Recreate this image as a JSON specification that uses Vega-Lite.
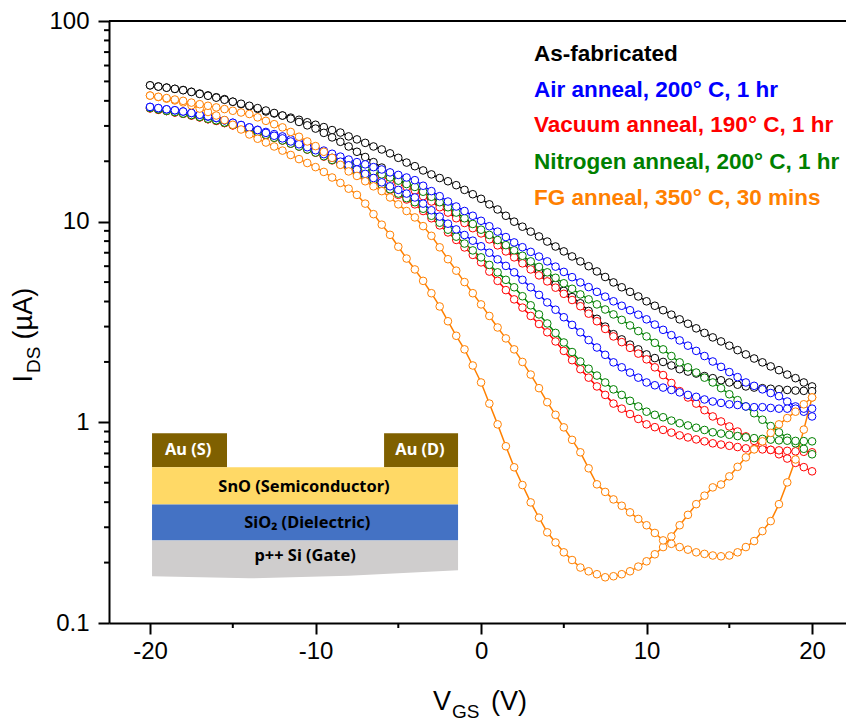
{"$schema":"https://vega.github.io/schema/vega-lite/v6.json","width":737,"height":602,"autosize":"none","padding":{"left":109,"top":21,"right":0,"bottom":98},"background":"white","config":{"view":{"stroke":null},"font":"Liberation Sans"},
"datasets":{
"curves":[
{"v":-20,"i":47.8,"s":"k1"},{"v":-19.5,"i":47.2,"s":"k1"},{"v":-19,"i":46.6,"s":"k1"},{"v":-18.5,"i":45.9,"s":"k1"},{"v":-18,"i":45.3,"s":"k1"},{"v":-17.5,"i":44.4,"s":"k1"},{"v":-17,"i":43.5,"s":"k1"},{"v":-16.5,"i":42.6,"s":"k1"},{"v":-16,"i":41.7,"s":"k1"},{"v":-15.5,"i":40.8,"s":"k1"},{"v":-15,"i":39.6,"s":"k1"},{"v":-14.5,"i":38.5,"s":"k1"},{"v":-14,"i":37.6,"s":"k1"},{"v":-13.5,"i":36.5,"s":"k1"},{"v":-13,"i":35.4,"s":"k1"},{"v":-12.5,"i":34.6,"s":"k1"},{"v":-12,"i":33.8,"s":"k1"},{"v":-11.5,"i":33,"s":"k1"},{"v":-11,"i":32.2,"s":"k1"},{"v":-10.5,"i":31.3,"s":"k1"},{"v":-10,"i":30.4,"s":"k1"},{"v":-9.5,"i":29.6,"s":"k1"},{"v":-9,"i":28.6,"s":"k1"},{"v":-8.5,"i":27.8,"s":"k1"},{"v":-8,"i":26.6,"s":"k1"},{"v":-7.5,"i":25.7,"s":"k1"},{"v":-7,"i":24.7,"s":"k1"},{"v":-6.5,"i":23.7,"s":"k1"},{"v":-6,"i":22.9,"s":"k1"},{"v":-5.5,"i":21.9,"s":"k1"},{"v":-5,"i":20.8,"s":"k1"},{"v":-4.5,"i":19.7,"s":"k1"},{"v":-4,"i":18.9,"s":"k1"},{"v":-3.5,"i":18,"s":"k1"},{"v":-3,"i":17.2,"s":"k1"},{"v":-2.5,"i":16.5,"s":"k1"},{"v":-2,"i":15.9,"s":"k1"},{"v":-1.5,"i":15.2,"s":"k1"},{"v":-1,"i":14.4,"s":"k1"},{"v":-0.5,"i":13.7,"s":"k1"},{"v":0,"i":13,"s":"k1"},{"v":0.5,"i":12.2,"s":"k1"},{"v":1,"i":11.5,"s":"k1"},{"v":1.5,"i":10.7,"s":"k1"},{"v":2,"i":10,"s":"k1"},{"v":2.5,"i":9.44,"s":"k1"},{"v":3,"i":8.92,"s":"k1"},{"v":3.5,"i":8.44,"s":"k1"},{"v":4,"i":7.96,"s":"k1"},{"v":4.5,"i":7.52,"s":"k1"},{"v":5,"i":7.11,"s":"k1"},{"v":5.5,"i":6.71,"s":"k1"},{"v":6,"i":6.34,"s":"k1"},{"v":6.5,"i":6,"s":"k1"},{"v":7,"i":5.65,"s":"k1"},{"v":7.5,"i":5.3,"s":"k1"},{"v":8,"i":4.98,"s":"k1"},{"v":8.5,"i":4.71,"s":"k1"},{"v":9,"i":4.47,"s":"k1"},{"v":9.5,"i":4.24,"s":"k1"},{"v":10,"i":4.01,"s":"k1"},{"v":10.5,"i":3.81,"s":"k1"},{"v":11,"i":3.62,"s":"k1"},{"v":11.5,"i":3.44,"s":"k1"},{"v":12,"i":3.26,"s":"k1"},{"v":12.5,"i":3.1,"s":"k1"},{"v":13,"i":2.94,"s":"k1"},{"v":13.5,"i":2.79,"s":"k1"},{"v":14,"i":2.65,"s":"k1"},{"v":14.5,"i":2.53,"s":"k1"},{"v":15,"i":2.41,"s":"k1"},{"v":15.5,"i":2.29,"s":"k1"},{"v":16,"i":2.18,"s":"k1"},{"v":16.5,"i":2.08,"s":"k1"},{"v":17,"i":1.99,"s":"k1"},{"v":17.5,"i":1.9,"s":"k1"},{"v":18,"i":1.82,"s":"k1"},{"v":18.5,"i":1.73,"s":"k1"},{"v":19,"i":1.66,"s":"k1"},{"v":19.5,"i":1.58,"s":"k1"},{"v":20,"i":1.51,"s":"k1"},
{"v":-20,"i":47.8,"s":"k2"},{"v":-19.5,"i":47.1,"s":"k2"},{"v":-19,"i":46.5,"s":"k2"},{"v":-18.5,"i":45.9,"s":"k2"},{"v":-18,"i":45.2,"s":"k2"},{"v":-17.5,"i":44.3,"s":"k2"},{"v":-17,"i":43.3,"s":"k2"},{"v":-16.5,"i":42.4,"s":"k2"},{"v":-16,"i":41.5,"s":"k2"},{"v":-15.5,"i":40.5,"s":"k2"},{"v":-15,"i":39.6,"s":"k2"},{"v":-14.5,"i":38.7,"s":"k2"},{"v":-14,"i":37.8,"s":"k2"},{"v":-13.5,"i":36.8,"s":"k2"},{"v":-13,"i":35.8,"s":"k2"},{"v":-12.5,"i":34.8,"s":"k2"},{"v":-12,"i":33.8,"s":"k2"},{"v":-11.5,"i":32.6,"s":"k2"},{"v":-11,"i":31.4,"s":"k2"},{"v":-10.5,"i":30.2,"s":"k2"},{"v":-10,"i":29.1,"s":"k2"},{"v":-9.5,"i":27.7,"s":"k2"},{"v":-9,"i":26.3,"s":"k2"},{"v":-8.5,"i":25,"s":"k2"},{"v":-8,"i":23.7,"s":"k2"},{"v":-7.5,"i":22.3,"s":"k2"},{"v":-7,"i":21,"s":"k2"},{"v":-6.5,"i":19.8,"s":"k2"},{"v":-6,"i":18.6,"s":"k2"},{"v":-5.5,"i":17.5,"s":"k2"},{"v":-5,"i":16.4,"s":"k2"},{"v":-4.5,"i":15.4,"s":"k2"},{"v":-4,"i":14.5,"s":"k2"},{"v":-3.5,"i":13.7,"s":"k2"},{"v":-3,"i":12.9,"s":"k2"},{"v":-2.5,"i":12.2,"s":"k2"},{"v":-2,"i":11.5,"s":"k2"},{"v":-1.5,"i":10.8,"s":"k2"},{"v":-1,"i":10.1,"s":"k2"},{"v":-0.5,"i":9.5,"s":"k2"},{"v":0,"i":8.93,"s":"k2"},{"v":0.5,"i":8.36,"s":"k2"},{"v":1,"i":7.83,"s":"k2"},{"v":1.5,"i":7.33,"s":"k2"},{"v":2,"i":6.86,"s":"k2"},{"v":2.5,"i":6.4,"s":"k2"},{"v":3,"i":5.98,"s":"k2"},{"v":3.5,"i":5.59,"s":"k2"},{"v":4,"i":5.22,"s":"k2"},{"v":4.5,"i":4.86,"s":"k2"},{"v":5,"i":4.52,"s":"k2"},{"v":5.5,"i":4.21,"s":"k2"},{"v":6,"i":3.92,"s":"k2"},{"v":6.5,"i":3.59,"s":"k2"},{"v":7,"i":3.28,"s":"k2"},{"v":7.5,"i":3,"s":"k2"},{"v":8,"i":2.75,"s":"k2"},{"v":8.5,"i":2.59,"s":"k2"},{"v":9,"i":2.44,"s":"k2"},{"v":9.5,"i":2.31,"s":"k2"},{"v":10,"i":2.18,"s":"k2"},{"v":10.5,"i":2.09,"s":"k2"},{"v":11,"i":2,"s":"k2"},{"v":11.5,"i":1.92,"s":"k2"},{"v":12,"i":1.84,"s":"k2"},{"v":12.5,"i":1.79,"s":"k2"},{"v":13,"i":1.75,"s":"k2"},{"v":13.5,"i":1.7,"s":"k2"},{"v":14,"i":1.66,"s":"k2"},{"v":14.5,"i":1.62,"s":"k2"},{"v":15,"i":1.58,"s":"k2"},{"v":15.5,"i":1.54,"s":"k2"},{"v":16,"i":1.51,"s":"k2"},{"v":16.5,"i":1.49,"s":"k2"},{"v":17,"i":1.48,"s":"k2"},{"v":17.5,"i":1.47,"s":"k2"},{"v":18,"i":1.46,"s":"k2"},{"v":18.5,"i":1.45,"s":"k2"},{"v":19,"i":1.44,"s":"k2"},{"v":19.5,"i":1.435,"s":"k2"},{"v":20,"i":1.43,"s":"k2"},
{"v":-20,"i":36.7,"s":"r1"},{"v":-19.5,"i":36.1,"s":"r1"},{"v":-19,"i":35.6,"s":"r1"},{"v":-18.5,"i":35,"s":"r1"},{"v":-18,"i":34.5,"s":"r1"},{"v":-17.5,"i":33.8,"s":"r1"},{"v":-17,"i":33.1,"s":"r1"},{"v":-16.5,"i":32.4,"s":"r1"},{"v":-16,"i":31.8,"s":"r1"},{"v":-15.5,"i":31,"s":"r1"},{"v":-15,"i":30.2,"s":"r1"},{"v":-14.5,"i":29.4,"s":"r1"},{"v":-14,"i":28.7,"s":"r1"},{"v":-13.5,"i":27.8,"s":"r1"},{"v":-13,"i":27,"s":"r1"},{"v":-12.5,"i":26.2,"s":"r1"},{"v":-12,"i":25.4,"s":"r1"},{"v":-11.5,"i":24.5,"s":"r1"},{"v":-11,"i":23.7,"s":"r1"},{"v":-10.5,"i":22.9,"s":"r1"},{"v":-10,"i":22.1,"s":"r1"},{"v":-9.5,"i":21.4,"s":"r1"},{"v":-9,"i":20.7,"s":"r1"},{"v":-8.5,"i":20,"s":"r1"},{"v":-8,"i":19.3,"s":"r1"},{"v":-7.5,"i":18.6,"s":"r1"},{"v":-7,"i":18,"s":"r1"},{"v":-6.5,"i":17.4,"s":"r1"},{"v":-6,"i":16.8,"s":"r1"},{"v":-5.5,"i":16.1,"s":"r1"},{"v":-5,"i":15.5,"s":"r1"},{"v":-4.5,"i":14.9,"s":"r1"},{"v":-4,"i":14.3,"s":"r1"},{"v":-3.5,"i":13.4,"s":"r1"},{"v":-3,"i":12.6,"s":"r1"},{"v":-2.5,"i":11.8,"s":"r1"},{"v":-2,"i":11.1,"s":"r1"},{"v":-1.5,"i":10.4,"s":"r1"},{"v":-1,"i":9.85,"s":"r1"},{"v":-0.5,"i":9.28,"s":"r1"},{"v":0,"i":8.74,"s":"r1"},{"v":0.5,"i":8.16,"s":"r1"},{"v":1,"i":7.62,"s":"r1"},{"v":1.5,"i":7.11,"s":"r1"},{"v":2,"i":6.64,"s":"r1"},{"v":2.5,"i":6.2,"s":"r1"},{"v":3,"i":5.78,"s":"r1"},{"v":3.5,"i":5.4,"s":"r1"},{"v":4,"i":5.04,"s":"r1"},{"v":4.5,"i":4.69,"s":"r1"},{"v":5,"i":4.37,"s":"r1"},{"v":5.5,"i":4.07,"s":"r1"},{"v":6,"i":3.79,"s":"r1"},{"v":6.5,"i":3.48,"s":"r1"},{"v":7,"i":3.19,"s":"r1"},{"v":7.5,"i":2.92,"s":"r1"},{"v":8,"i":2.68,"s":"r1"},{"v":8.5,"i":2.51,"s":"r1"},{"v":9,"i":2.35,"s":"r1"},{"v":9.5,"i":2.2,"s":"r1"},{"v":10,"i":2.06,"s":"r1"},{"v":10.5,"i":1.88,"s":"r1"},{"v":11,"i":1.72,"s":"r1"},{"v":11.5,"i":1.57,"s":"r1"},{"v":12,"i":1.43,"s":"r1"},{"v":12.5,"i":1.33,"s":"r1"},{"v":13,"i":1.24,"s":"r1"},{"v":13.5,"i":1.15,"s":"r1"},{"v":14,"i":1.07,"s":"r1"},{"v":14.5,"i":1.01,"s":"r1"},{"v":15,"i":0.954,"s":"r1"},{"v":15.5,"i":0.9,"s":"r1"},{"v":16,"i":0.851,"s":"r1"},{"v":16.5,"i":0.808,"s":"r1"},{"v":17,"i":0.768,"s":"r1"},{"v":17.5,"i":0.729,"s":"r1"},{"v":18,"i":0.693,"s":"r1"},{"v":18.5,"i":0.66,"s":"r1"},{"v":19,"i":0.628,"s":"r1"},{"v":19.5,"i":0.598,"s":"r1"},{"v":20,"i":0.57,"s":"r1"},
{"v":-20,"i":36.7,"s":"r2"},{"v":-19.5,"i":36.1,"s":"r2"},{"v":-19,"i":35.6,"s":"r2"},{"v":-18.5,"i":35,"s":"r2"},{"v":-18,"i":34.5,"s":"r2"},{"v":-17.5,"i":33.8,"s":"r2"},{"v":-17,"i":33.1,"s":"r2"},{"v":-16.5,"i":32.4,"s":"r2"},{"v":-16,"i":31.8,"s":"r2"},{"v":-15.5,"i":31,"s":"r2"},{"v":-15,"i":30.2,"s":"r2"},{"v":-14.5,"i":29.4,"s":"r2"},{"v":-14,"i":28.7,"s":"r2"},{"v":-13.5,"i":27.8,"s":"r2"},{"v":-13,"i":27,"s":"r2"},{"v":-12.5,"i":26.2,"s":"r2"},{"v":-12,"i":25.4,"s":"r2"},{"v":-11.5,"i":24.5,"s":"r2"},{"v":-11,"i":23.7,"s":"r2"},{"v":-10.5,"i":22.9,"s":"r2"},{"v":-10,"i":22.1,"s":"r2"},{"v":-9.5,"i":21.1,"s":"r2"},{"v":-9,"i":20.2,"s":"r2"},{"v":-8.5,"i":19.3,"s":"r2"},{"v":-8,"i":18.4,"s":"r2"},{"v":-7.5,"i":17.5,"s":"r2"},{"v":-7,"i":16.7,"s":"r2"},{"v":-6.5,"i":15.9,"s":"r2"},{"v":-6,"i":15.2,"s":"r2"},{"v":-5.5,"i":14.4,"s":"r2"},{"v":-5,"i":13.6,"s":"r2"},{"v":-4.5,"i":12.9,"s":"r2"},{"v":-4,"i":12.2,"s":"r2"},{"v":-3.5,"i":11.3,"s":"r2"},{"v":-3,"i":10.4,"s":"r2"},{"v":-2.5,"i":9.58,"s":"r2"},{"v":-2,"i":8.84,"s":"r2"},{"v":-1.5,"i":8.11,"s":"r2"},{"v":-1,"i":7.44,"s":"r2"},{"v":-0.5,"i":6.83,"s":"r2"},{"v":0,"i":6.27,"s":"r2"},{"v":0.5,"i":5.64,"s":"r2"},{"v":1,"i":5.07,"s":"r2"},{"v":1.5,"i":4.56,"s":"r2"},{"v":2,"i":4.1,"s":"r2"},{"v":2.5,"i":3.73,"s":"r2"},{"v":3,"i":3.39,"s":"r2"},{"v":3.5,"i":3.09,"s":"r2"},{"v":4,"i":2.81,"s":"r2"},{"v":4.5,"i":2.53,"s":"r2"},{"v":5,"i":2.27,"s":"r2"},{"v":5.5,"i":2.04,"s":"r2"},{"v":6,"i":1.84,"s":"r2"},{"v":6.5,"i":1.67,"s":"r2"},{"v":7,"i":1.51,"s":"r2"},{"v":7.5,"i":1.37,"s":"r2"},{"v":8,"i":1.24,"s":"r2"},{"v":8.5,"i":1.17,"s":"r2"},{"v":9,"i":1.1,"s":"r2"},{"v":9.5,"i":1.04,"s":"r2"},{"v":10,"i":0.977,"s":"r2"},{"v":10.5,"i":0.946,"s":"r2"},{"v":11,"i":0.917,"s":"r2"},{"v":11.5,"i":0.889,"s":"r2"},{"v":12,"i":0.861,"s":"r2"},{"v":12.5,"i":0.841,"s":"r2"},{"v":13,"i":0.822,"s":"r2"},{"v":13.5,"i":0.804,"s":"r2"},{"v":14,"i":0.786,"s":"r2"},{"v":14.5,"i":0.775,"s":"r2"},{"v":15,"i":0.764,"s":"r2"},{"v":15.5,"i":0.753,"s":"r2"},{"v":16,"i":0.742,"s":"r2"},{"v":16.5,"i":0.737,"s":"r2"},{"v":17,"i":0.733,"s":"r2"},{"v":17.5,"i":0.729,"s":"r2"},{"v":18,"i":0.725,"s":"r2"},{"v":18.5,"i":0.721,"s":"r2"},{"v":19,"i":0.717,"s":"r2"},{"v":19.5,"i":0.713,"s":"r2"},{"v":20,"i":0.709,"s":"r2"},
{"v":-20,"i":36.9,"s":"g1"},{"v":-19.5,"i":36.3,"s":"g1"},{"v":-19,"i":35.7,"s":"g1"},{"v":-18.5,"i":35.2,"s":"g1"},{"v":-18,"i":34.6,"s":"g1"},{"v":-17.5,"i":34,"s":"g1"},{"v":-17,"i":33.3,"s":"g1"},{"v":-16.5,"i":32.6,"s":"g1"},{"v":-16,"i":32,"s":"g1"},{"v":-15.5,"i":31.2,"s":"g1"},{"v":-15,"i":30.4,"s":"g1"},{"v":-14.5,"i":29.6,"s":"g1"},{"v":-14,"i":28.9,"s":"g1"},{"v":-13.5,"i":28,"s":"g1"},{"v":-13,"i":27.2,"s":"g1"},{"v":-12.5,"i":26.4,"s":"g1"},{"v":-12,"i":25.7,"s":"g1"},{"v":-11.5,"i":24.8,"s":"g1"},{"v":-11,"i":24,"s":"g1"},{"v":-10.5,"i":23.2,"s":"g1"},{"v":-10,"i":22.4,"s":"g1"},{"v":-9.5,"i":21.7,"s":"g1"},{"v":-9,"i":21,"s":"g1"},{"v":-8.5,"i":20.3,"s":"g1"},{"v":-8,"i":19.6,"s":"g1"},{"v":-7.5,"i":19,"s":"g1"},{"v":-7,"i":18.4,"s":"g1"},{"v":-6.5,"i":17.8,"s":"g1"},{"v":-6,"i":17.2,"s":"g1"},{"v":-5.5,"i":16.6,"s":"g1"},{"v":-5,"i":16,"s":"g1"},{"v":-4.5,"i":15.4,"s":"g1"},{"v":-4,"i":14.9,"s":"g1"},{"v":-3.5,"i":14.1,"s":"g1"},{"v":-3,"i":13.3,"s":"g1"},{"v":-2.5,"i":12.5,"s":"g1"},{"v":-2,"i":11.8,"s":"g1"},{"v":-1.5,"i":11.1,"s":"g1"},{"v":-1,"i":10.4,"s":"g1"},{"v":-0.5,"i":9.74,"s":"g1"},{"v":0,"i":9.12,"s":"g1"},{"v":0.5,"i":8.59,"s":"g1"},{"v":1,"i":8.1,"s":"g1"},{"v":1.5,"i":7.64,"s":"g1"},{"v":2,"i":7.2,"s":"g1"},{"v":2.5,"i":6.76,"s":"g1"},{"v":3,"i":6.34,"s":"g1"},{"v":3.5,"i":5.95,"s":"g1"},{"v":4,"i":5.59,"s":"g1"},{"v":4.5,"i":5.25,"s":"g1"},{"v":5,"i":4.93,"s":"g1"},{"v":5.5,"i":4.63,"s":"g1"},{"v":6,"i":4.34,"s":"g1"},{"v":6.5,"i":4.1,"s":"g1"},{"v":7,"i":3.87,"s":"g1"},{"v":7.5,"i":3.65,"s":"g1"},{"v":8,"i":3.45,"s":"g1"},{"v":8.5,"i":3.24,"s":"g1"},{"v":9,"i":3.04,"s":"g1"},{"v":9.5,"i":2.85,"s":"g1"},{"v":10,"i":2.68,"s":"g1"},{"v":10.5,"i":2.49,"s":"g1"},{"v":11,"i":2.31,"s":"g1"},{"v":11.5,"i":2.14,"s":"g1"},{"v":12,"i":1.99,"s":"g1"},{"v":12.5,"i":1.88,"s":"g1"},{"v":13,"i":1.77,"s":"g1"},{"v":13.5,"i":1.67,"s":"g1"},{"v":14,"i":1.58,"s":"g1"},{"v":14.5,"i":1.48,"s":"g1"},{"v":15,"i":1.38,"s":"g1"},{"v":15.5,"i":1.29,"s":"g1"},{"v":16,"i":1.2,"s":"g1"},{"v":16.5,"i":1.11,"s":"g1"},{"v":17,"i":1.03,"s":"g1"},{"v":17.5,"i":0.958,"s":"g1"},{"v":18,"i":0.892,"s":"g1"},{"v":18.5,"i":0.837,"s":"g1"},{"v":19,"i":0.786,"s":"g1"},{"v":19.5,"i":0.738,"s":"g1"},{"v":20,"i":0.693,"s":"g1"},
{"v":-20,"i":36.9,"s":"g2"},{"v":-19.5,"i":36.3,"s":"g2"},{"v":-19,"i":35.7,"s":"g2"},{"v":-18.5,"i":35.2,"s":"g2"},{"v":-18,"i":34.6,"s":"g2"},{"v":-17.5,"i":34,"s":"g2"},{"v":-17,"i":33.3,"s":"g2"},{"v":-16.5,"i":32.6,"s":"g2"},{"v":-16,"i":32,"s":"g2"},{"v":-15.5,"i":31.2,"s":"g2"},{"v":-15,"i":30.4,"s":"g2"},{"v":-14.5,"i":29.6,"s":"g2"},{"v":-14,"i":28.9,"s":"g2"},{"v":-13.5,"i":28,"s":"g2"},{"v":-13,"i":27.1,"s":"g2"},{"v":-12.5,"i":26.2,"s":"g2"},{"v":-12,"i":25.4,"s":"g2"},{"v":-11.5,"i":24.5,"s":"g2"},{"v":-11,"i":23.7,"s":"g2"},{"v":-10.5,"i":22.9,"s":"g2"},{"v":-10,"i":22.1,"s":"g2"},{"v":-9.5,"i":21.2,"s":"g2"},{"v":-9,"i":20.3,"s":"g2"},{"v":-8.5,"i":19.4,"s":"g2"},{"v":-8,"i":18.6,"s":"g2"},{"v":-7.5,"i":17.7,"s":"g2"},{"v":-7,"i":16.9,"s":"g2"},{"v":-6.5,"i":16.1,"s":"g2"},{"v":-6,"i":15.3,"s":"g2"},{"v":-5.5,"i":14.5,"s":"g2"},{"v":-5,"i":13.8,"s":"g2"},{"v":-4.5,"i":13.1,"s":"g2"},{"v":-4,"i":12.5,"s":"g2"},{"v":-3.5,"i":11.6,"s":"g2"},{"v":-3,"i":10.7,"s":"g2"},{"v":-2.5,"i":9.88,"s":"g2"},{"v":-2,"i":9.12,"s":"g2"},{"v":-1.5,"i":8.42,"s":"g2"},{"v":-1,"i":7.78,"s":"g2"},{"v":-0.5,"i":7.19,"s":"g2"},{"v":0,"i":6.64,"s":"g2"},{"v":0.5,"i":6.09,"s":"g2"},{"v":1,"i":5.59,"s":"g2"},{"v":1.5,"i":5.13,"s":"g2"},{"v":2,"i":4.71,"s":"g2"},{"v":2.5,"i":4.25,"s":"g2"},{"v":3,"i":3.83,"s":"g2"},{"v":3.5,"i":3.45,"s":"g2"},{"v":4,"i":3.11,"s":"g2"},{"v":4.5,"i":2.79,"s":"g2"},{"v":5,"i":2.5,"s":"g2"},{"v":5.5,"i":2.24,"s":"g2"},{"v":6,"i":2.01,"s":"g2"},{"v":6.5,"i":1.85,"s":"g2"},{"v":7,"i":1.71,"s":"g2"},{"v":7.5,"i":1.58,"s":"g2"},{"v":8,"i":1.46,"s":"g2"},{"v":8.5,"i":1.37,"s":"g2"},{"v":9,"i":1.28,"s":"g2"},{"v":9.5,"i":1.2,"s":"g2"},{"v":10,"i":1.13,"s":"g2"},{"v":10.5,"i":1.09,"s":"g2"},{"v":11,"i":1.06,"s":"g2"},{"v":11.5,"i":1.02,"s":"g2"},{"v":12,"i":0.99,"s":"g2"},{"v":12.5,"i":0.965,"s":"g2"},{"v":13,"i":0.94,"s":"g2"},{"v":13.5,"i":0.916,"s":"g2"},{"v":14,"i":0.892,"s":"g2"},{"v":14.5,"i":0.879,"s":"g2"},{"v":15,"i":0.867,"s":"g2"},{"v":15.5,"i":0.854,"s":"g2"},{"v":16,"i":0.842,"s":"g2"},{"v":16.5,"i":0.834,"s":"g2"},{"v":17,"i":0.827,"s":"g2"},{"v":17.5,"i":0.82,"s":"g2"},{"v":18,"i":0.813,"s":"g2"},{"v":18.5,"i":0.81,"s":"g2"},{"v":19,"i":0.808,"s":"g2"},{"v":19.5,"i":0.806,"s":"g2"},{"v":20,"i":0.804,"s":"g2"},
{"v":-20,"i":37.3,"s":"b1"},{"v":-19.5,"i":36.8,"s":"b1"},{"v":-19,"i":36.3,"s":"b1"},{"v":-18.5,"i":35.9,"s":"b1"},{"v":-18,"i":35.4,"s":"b1"},{"v":-17.5,"i":34.8,"s":"b1"},{"v":-17,"i":34.1,"s":"b1"},{"v":-16.5,"i":33.4,"s":"b1"},{"v":-16,"i":32.8,"s":"b1"},{"v":-15.5,"i":32,"s":"b1"},{"v":-15,"i":31.1,"s":"b1"},{"v":-14.5,"i":30.3,"s":"b1"},{"v":-14,"i":29.5,"s":"b1"},{"v":-13.5,"i":28.7,"s":"b1"},{"v":-13,"i":28,"s":"b1"},{"v":-12.5,"i":27.3,"s":"b1"},{"v":-12,"i":26.6,"s":"b1"},{"v":-11.5,"i":25.7,"s":"b1"},{"v":-11,"i":24.9,"s":"b1"},{"v":-10.5,"i":24.1,"s":"b1"},{"v":-10,"i":23.4,"s":"b1"},{"v":-9.5,"i":22.6,"s":"b1"},{"v":-9,"i":21.8,"s":"b1"},{"v":-8.5,"i":21.1,"s":"b1"},{"v":-8,"i":20.4,"s":"b1"},{"v":-7.5,"i":19.8,"s":"b1"},{"v":-7,"i":19.3,"s":"b1"},{"v":-6.5,"i":18.7,"s":"b1"},{"v":-6,"i":18.2,"s":"b1"},{"v":-5.5,"i":17.6,"s":"b1"},{"v":-5,"i":17.1,"s":"b1"},{"v":-4.5,"i":16.6,"s":"b1"},{"v":-4,"i":16.1,"s":"b1"},{"v":-3.5,"i":15.1,"s":"b1"},{"v":-3,"i":14.2,"s":"b1"},{"v":-2.5,"i":13.4,"s":"b1"},{"v":-2,"i":12.6,"s":"b1"},{"v":-1.5,"i":11.9,"s":"b1"},{"v":-1,"i":11.3,"s":"b1"},{"v":-0.5,"i":10.7,"s":"b1"},{"v":0,"i":10.1,"s":"b1"},{"v":0.5,"i":9.49,"s":"b1"},{"v":1,"i":8.92,"s":"b1"},{"v":1.5,"i":8.38,"s":"b1"},{"v":2,"i":7.88,"s":"b1"},{"v":2.5,"i":7.46,"s":"b1"},{"v":3,"i":7.07,"s":"b1"},{"v":3.5,"i":6.7,"s":"b1"},{"v":4,"i":6.34,"s":"b1"},{"v":4.5,"i":5.97,"s":"b1"},{"v":5,"i":5.62,"s":"b1"},{"v":5.5,"i":5.29,"s":"b1"},{"v":6,"i":4.98,"s":"b1"},{"v":6.5,"i":4.72,"s":"b1"},{"v":7,"i":4.47,"s":"b1"},{"v":7.5,"i":4.23,"s":"b1"},{"v":8,"i":4.01,"s":"b1"},{"v":8.5,"i":3.81,"s":"b1"},{"v":9,"i":3.62,"s":"b1"},{"v":9.5,"i":3.44,"s":"b1"},{"v":10,"i":3.26,"s":"b1"},{"v":10.5,"i":3.07,"s":"b1"},{"v":11,"i":2.89,"s":"b1"},{"v":11.5,"i":2.72,"s":"b1"},{"v":12,"i":2.56,"s":"b1"},{"v":12.5,"i":2.41,"s":"b1"},{"v":13,"i":2.27,"s":"b1"},{"v":13.5,"i":2.14,"s":"b1"},{"v":14,"i":2.01,"s":"b1"},{"v":14.5,"i":1.89,"s":"b1"},{"v":15,"i":1.78,"s":"b1"},{"v":15.5,"i":1.68,"s":"b1"},{"v":16,"i":1.58,"s":"b1"},{"v":16.5,"i":1.52,"s":"b1"},{"v":17,"i":1.46,"s":"b1"},{"v":17.5,"i":1.4,"s":"b1"},{"v":18,"i":1.35,"s":"b1"},{"v":18.5,"i":1.27,"s":"b1"},{"v":19,"i":1.2,"s":"b1"},{"v":19.5,"i":1.13,"s":"b1"},{"v":20,"i":1.07,"s":"b1"},
{"v":-20,"i":37.3,"s":"b2"},{"v":-19.5,"i":36.8,"s":"b2"},{"v":-19,"i":36.3,"s":"b2"},{"v":-18.5,"i":35.9,"s":"b2"},{"v":-18,"i":35.4,"s":"b2"},{"v":-17.5,"i":34.8,"s":"b2"},{"v":-17,"i":34.1,"s":"b2"},{"v":-16.5,"i":33.5,"s":"b2"},{"v":-16,"i":32.9,"s":"b2"},{"v":-15.5,"i":32,"s":"b2"},{"v":-15,"i":31.1,"s":"b2"},{"v":-14.5,"i":30.3,"s":"b2"},{"v":-14,"i":29.5,"s":"b2"},{"v":-13.5,"i":28.6,"s":"b2"},{"v":-13,"i":27.7,"s":"b2"},{"v":-12.5,"i":26.8,"s":"b2"},{"v":-12,"i":26,"s":"b2"},{"v":-11.5,"i":25.1,"s":"b2"},{"v":-11,"i":24.3,"s":"b2"},{"v":-10.5,"i":23.5,"s":"b2"},{"v":-10,"i":22.7,"s":"b2"},{"v":-9.5,"i":21.7,"s":"b2"},{"v":-9,"i":20.8,"s":"b2"},{"v":-8.5,"i":19.9,"s":"b2"},{"v":-8,"i":19.1,"s":"b2"},{"v":-7.5,"i":18.2,"s":"b2"},{"v":-7,"i":17.3,"s":"b2"},{"v":-6.5,"i":16.5,"s":"b2"},{"v":-6,"i":15.7,"s":"b2"},{"v":-5.5,"i":15,"s":"b2"},{"v":-5,"i":14.4,"s":"b2"},{"v":-4.5,"i":13.8,"s":"b2"},{"v":-4,"i":13.2,"s":"b2"},{"v":-3.5,"i":12.3,"s":"b2"},{"v":-3,"i":11.4,"s":"b2"},{"v":-2.5,"i":10.6,"s":"b2"},{"v":-2,"i":9.77,"s":"b2"},{"v":-1.5,"i":9.15,"s":"b2"},{"v":-1,"i":8.58,"s":"b2"},{"v":-0.5,"i":8.04,"s":"b2"},{"v":0,"i":7.54,"s":"b2"},{"v":0.5,"i":7,"s":"b2"},{"v":1,"i":6.49,"s":"b2"},{"v":1.5,"i":6.02,"s":"b2"},{"v":2,"i":5.59,"s":"b2"},{"v":2.5,"i":5.13,"s":"b2"},{"v":3,"i":4.71,"s":"b2"},{"v":3.5,"i":4.32,"s":"b2"},{"v":4,"i":3.96,"s":"b2"},{"v":4.5,"i":3.64,"s":"b2"},{"v":5,"i":3.34,"s":"b2"},{"v":5.5,"i":3.06,"s":"b2"},{"v":6,"i":2.81,"s":"b2"},{"v":6.5,"i":2.57,"s":"b2"},{"v":7,"i":2.36,"s":"b2"},{"v":7.5,"i":2.17,"s":"b2"},{"v":8,"i":1.99,"s":"b2"},{"v":8.5,"i":1.88,"s":"b2"},{"v":9,"i":1.77,"s":"b2"},{"v":9.5,"i":1.67,"s":"b2"},{"v":10,"i":1.58,"s":"b2"},{"v":10.5,"i":1.53,"s":"b2"},{"v":11,"i":1.49,"s":"b2"},{"v":11.5,"i":1.45,"s":"b2"},{"v":12,"i":1.41,"s":"b2"},{"v":12.5,"i":1.37,"s":"b2"},{"v":13,"i":1.34,"s":"b2"},{"v":13.5,"i":1.3,"s":"b2"},{"v":14,"i":1.27,"s":"b2"},{"v":14.5,"i":1.25,"s":"b2"},{"v":15,"i":1.23,"s":"b2"},{"v":15.5,"i":1.22,"s":"b2"},{"v":16,"i":1.2,"s":"b2"},{"v":16.5,"i":1.19,"s":"b2"},{"v":17,"i":1.19,"s":"b2"},{"v":17.5,"i":1.18,"s":"b2"},{"v":18,"i":1.17,"s":"b2"},{"v":18.5,"i":1.17,"s":"b2"},{"v":19,"i":1.17,"s":"b2"},{"v":19.5,"i":1.17,"s":"b2"},{"v":20,"i":1.17,"s":"b2"},
{"v":-20,"i":42.5,"s":"o1"},{"v":-19.5,"i":41.8,"s":"o1"},{"v":-19,"i":41,"s":"o1"},{"v":-18.5,"i":40.2,"s":"o1"},{"v":-18,"i":39.3,"s":"o1"},{"v":-17.5,"i":38,"s":"o1"},{"v":-17,"i":36.6,"s":"o1"},{"v":-16.5,"i":35.2,"s":"o1"},{"v":-16,"i":33.8,"s":"o1"},{"v":-15.5,"i":32.1,"s":"o1"},{"v":-15,"i":30.4,"s":"o1"},{"v":-14.5,"i":28.8,"s":"o1"},{"v":-14,"i":27.2,"s":"o1"},{"v":-13.5,"i":25.9,"s":"o1"},{"v":-13,"i":24.8,"s":"o1"},{"v":-12.5,"i":23.7,"s":"o1"},{"v":-12,"i":22.6,"s":"o1"},{"v":-11.5,"i":21.5,"s":"o1"},{"v":-11,"i":20.5,"s":"o1"},{"v":-10.5,"i":19.6,"s":"o1"},{"v":-10,"i":18.7,"s":"o1"},{"v":-9.5,"i":17.7,"s":"o1"},{"v":-9,"i":16.6,"s":"o1"},{"v":-8.5,"i":15.6,"s":"o1"},{"v":-8,"i":14.6,"s":"o1"},{"v":-7.5,"i":13.6,"s":"o1"},{"v":-7,"i":12.3,"s":"o1"},{"v":-6.5,"i":10.9,"s":"o1"},{"v":-6,"i":9.66,"s":"o1"},{"v":-5.5,"i":8.6,"s":"o1"},{"v":-5,"i":7.5,"s":"o1"},{"v":-4.5,"i":6.55,"s":"o1"},{"v":-4,"i":5.78,"s":"o1"},{"v":-3.5,"i":5.07,"s":"o1"},{"v":-3,"i":4.4,"s":"o1"},{"v":-2.5,"i":3.78,"s":"o1"},{"v":-2,"i":3.19,"s":"o1"},{"v":-1.5,"i":2.7,"s":"o1"},{"v":-1,"i":2.31,"s":"o1"},{"v":-0.5,"i":1.92,"s":"o1"},{"v":0,"i":1.58,"s":"o1"},{"v":0.5,"i":1.24,"s":"o1"},{"v":1,"i":0.977,"s":"o1"},{"v":1.5,"i":0.76,"s":"o1"},{"v":2,"i":0.597,"s":"o1"},{"v":2.5,"i":0.487,"s":"o1"},{"v":3,"i":0.399,"s":"o1"},{"v":3.5,"i":0.335,"s":"o1"},{"v":4,"i":0.283,"s":"o1"},{"v":4.5,"i":0.252,"s":"o1"},{"v":5,"i":0.225,"s":"o1"},{"v":5.5,"i":0.206,"s":"o1"},{"v":6,"i":0.189,"s":"o1"},{"v":6.5,"i":0.181,"s":"o1"},{"v":7,"i":0.175,"s":"o1"},{"v":7.5,"i":0.169,"s":"o1"},{"v":8,"i":0.171,"s":"o1"},{"v":8.5,"i":0.175,"s":"o1"},{"v":9,"i":0.181,"s":"o1"},{"v":9.5,"i":0.191,"s":"o1"},{"v":10,"i":0.203,"s":"o1"},{"v":10.5,"i":0.22,"s":"o1"},{"v":11,"i":0.239,"s":"o1"},{"v":11.5,"i":0.27,"s":"o1"},{"v":12,"i":0.307,"s":"o1"},{"v":12.5,"i":0.346,"s":"o1"},{"v":13,"i":0.391,"s":"o1"},{"v":13.5,"i":0.431,"s":"o1"},{"v":14,"i":0.474,"s":"o1"},{"v":14.5,"i":0.49,"s":"o1"},{"v":15,"i":0.538,"s":"o1"},{"v":15.5,"i":0.6,"s":"o1"},{"v":16,"i":0.669,"s":"o1"},{"v":16.5,"i":0.733,"s":"o1"},{"v":17,"i":0.804,"s":"o1"},{"v":17.5,"i":0.886,"s":"o1"},{"v":18,"i":0.977,"s":"o1"},{"v":18.5,"i":1.05,"s":"o1"},{"v":19,"i":1.13,"s":"o1"},{"v":19.5,"i":1.23,"s":"o1"},{"v":20,"i":1.33,"s":"o1"},
{"v":-20,"i":42.5,"s":"o2"},{"v":-19.5,"i":41.9,"s":"o2"},{"v":-19,"i":41.3,"s":"o2"},{"v":-18.5,"i":40.6,"s":"o2"},{"v":-18,"i":40,"s":"o2"},{"v":-17.5,"i":39.2,"s":"o2"},{"v":-17,"i":38.5,"s":"o2"},{"v":-16.5,"i":37.8,"s":"o2"},{"v":-16,"i":37.1,"s":"o2"},{"v":-15.5,"i":36.4,"s":"o2"},{"v":-15,"i":35.7,"s":"o2"},{"v":-14.5,"i":35,"s":"o2"},{"v":-14,"i":34.4,"s":"o2"},{"v":-13.5,"i":33.1,"s":"o2"},{"v":-13,"i":31.8,"s":"o2"},{"v":-12.5,"i":30.6,"s":"o2"},{"v":-12,"i":29.5,"s":"o2"},{"v":-11.5,"i":28,"s":"o2"},{"v":-11,"i":26.5,"s":"o2"},{"v":-10.5,"i":25.1,"s":"o2"},{"v":-10,"i":23.8,"s":"o2"},{"v":-9.5,"i":22.3,"s":"o2"},{"v":-9,"i":20.8,"s":"o2"},{"v":-8.5,"i":19.2,"s":"o2"},{"v":-8,"i":17.8,"s":"o2"},{"v":-7.5,"i":16.9,"s":"o2"},{"v":-7,"i":15.9,"s":"o2"},{"v":-6.5,"i":15,"s":"o2"},{"v":-6,"i":14.2,"s":"o2"},{"v":-5.5,"i":13.2,"s":"o2"},{"v":-5,"i":12.2,"s":"o2"},{"v":-4.5,"i":11.3,"s":"o2"},{"v":-4,"i":10.5,"s":"o2"},{"v":-3.5,"i":9.5,"s":"o2"},{"v":-3,"i":8.5,"s":"o2"},{"v":-2.5,"i":7.45,"s":"o2"},{"v":-2,"i":6.5,"s":"o2"},{"v":-1.5,"i":5.7,"s":"o2"},{"v":-1,"i":5,"s":"o2"},{"v":-0.5,"i":4.4,"s":"o2"},{"v":0,"i":3.87,"s":"o2"},{"v":0.5,"i":3.39,"s":"o2"},{"v":1,"i":2.97,"s":"o2"},{"v":1.5,"i":2.62,"s":"o2"},{"v":2,"i":2.31,"s":"o2"},{"v":2.5,"i":2,"s":"o2"},{"v":3,"i":1.73,"s":"o2"},{"v":3.5,"i":1.48,"s":"o2"},{"v":4,"i":1.26,"s":"o2"},{"v":4.5,"i":1.09,"s":"o2"},{"v":5,"i":0.944,"s":"o2"},{"v":5.5,"i":0.818,"s":"o2"},{"v":6,"i":0.709,"s":"o2"},{"v":6.5,"i":0.59,"s":"o2"},{"v":7,"i":0.491,"s":"o2"},{"v":7.5,"i":0.45,"s":"o2"},{"v":8,"i":0.413,"s":"o2"},{"v":8.5,"i":0.384,"s":"o2"},{"v":9,"i":0.356,"s":"o2"},{"v":9.5,"i":0.33,"s":"o2"},{"v":10,"i":0.307,"s":"o2"},{"v":10.5,"i":0.281,"s":"o2"},{"v":11,"i":0.258,"s":"o2"},{"v":11.5,"i":0.248,"s":"o2"},{"v":12,"i":0.239,"s":"o2"},{"v":12.5,"i":0.232,"s":"o2"},{"v":13,"i":0.225,"s":"o2"},{"v":13.5,"i":0.221,"s":"o2"},{"v":14,"i":0.217,"s":"o2"},{"v":14.5,"i":0.215,"s":"o2"},{"v":15,"i":0.217,"s":"o2"},{"v":15.5,"i":0.225,"s":"o2"},{"v":16,"i":0.239,"s":"o2"},{"v":16.5,"i":0.256,"s":"o2"},{"v":17,"i":0.287,"s":"o2"},{"v":17.5,"i":0.322,"s":"o2"},{"v":18,"i":0.391,"s":"o2"},{"v":18.5,"i":0.502,"s":"o2"},{"v":19,"i":0.653,"s":"o2"},{"v":19.5,"i":0.92,"s":"o2"},{"v":20,"i":1.33,"s":"o2"}
],
"legend":[{"t":"As-fabricated","v":3.2,"i":68.3,"p":"black"},{"t":"Air anneal, 200° C, 1 hr","v":3.2,"i":45.2,"p":"blue"},{"t":"Vacuum anneal, 190° C, 1 hr","v":3.2,"i":30.2,"p":"red"},{"t":"Nitrogen anneal, 200° C, 1 hr","v":3.2,"i":19.8,"p":"green"},{"t":"FG anneal, 350° C, 30 mins","v":3.2,"i":13.1,"p":"orange"}],
"layers":[{"p":"Au","v":-19.88,"v2":-15.35,"i":0.881,"i2":0.597},{"p":"Au","v":-5.86,"v2":-1.39,"i":0.881,"i2":0.597},{"p":"SnO","v":-19.88,"v2":-1.39,"i":0.597,"i2":0.39},{"p":"SiO2","v":-19.88,"v2":-1.39,"i":0.39,"i2":0.258}],
"gate":[{"v":-19.88,"i":0.258,"i2":0.171},{"v":-14,"i":0.258,"i2":0.167},{"v":-8,"i":0.258,"i2":0.172},{"v":-1.39,"i":0.258,"i2":0.183}],
"yminor":[{"a":-22.48,"b":-22.78,"i":0.2},{"a":-22.48,"b":-22.78,"i":0.3},{"a":-22.48,"b":-22.78,"i":0.4},{"a":-22.48,"b":-22.78,"i":0.5},{"a":-22.48,"b":-22.78,"i":0.6},{"a":-22.48,"b":-22.78,"i":0.7},{"a":-22.48,"b":-22.78,"i":0.8},{"a":-22.48,"b":-22.78,"i":0.9},{"a":-22.48,"b":-22.78,"i":2},{"a":-22.48,"b":-22.78,"i":3},{"a":-22.48,"b":-22.78,"i":4},{"a":-22.48,"b":-22.78,"i":5},{"a":-22.48,"b":-22.78,"i":6},{"a":-22.48,"b":-22.78,"i":7},{"a":-22.48,"b":-22.78,"i":8},{"a":-22.48,"b":-22.78,"i":9},{"a":-22.48,"b":-22.78,"i":20},{"a":-22.48,"b":-22.78,"i":30},{"a":-22.48,"b":-22.78,"i":40},{"a":-22.48,"b":-22.78,"i":50},{"a":-22.48,"b":-22.78,"i":60},{"a":-22.48,"b":-22.78,"i":70},{"a":-22.48,"b":-22.78,"i":80},{"a":-22.48,"b":-22.78,"i":90},{"a":-22.48,"b":22.05,"i":100}],
"xminor":[{"v":-15,"i":0.1,"i2":0.0944},{"v":-5,"i":0.1,"i2":0.0944},{"v":5,"i":0.1,"i2":0.0944},{"v":15,"i":0.1,"i2":0.0944}]
},
"layer":[
{"data":{"name":"layers"},"mark":{"type":"rect"},"encoding":{"x":{"field":"v","type":"quantitative","scale":{"domain":[-22.48,22.05],"nice":false,"zero":false},"axis":{"values":[-20,-10,0,10,20],"title":null,"grid":false,"domainWidth":2,"domainColor":"black","tickWidth":2,"tickColor":"black","tickSize":11,"labelFontSize":24,"labelColor":"black","labelPadding":5,"labelFont":"Liberation Sans","labelExpr":"'' + datum.value"}},"x2":{"field":"v2"},"y":{"field":"i","type":"quantitative","scale":{"type":"log","domain":[0.1,100],"nice":false},"axis":{"values":[0.1,1,10,100],"title":null,"grid":false,"domainWidth":2,"domainColor":"black","tickWidth":2,"tickColor":"black","tickSize":11,"labelFontSize":24,"labelColor":"black","labelPadding":9,"labelFont":"Liberation Sans","format":"~g"}},"y2":{"field":"i2"},"fill":{"field":"p","type":"nominal","scale":{"domain":["Au","SnO","SiO2","black","blue","red","green","orange"],"range":["#7f6000","#ffd966","#4472c4","#000000","#0000ff","#ff0000","#008000","#ff8000"]},"legend":null}}},
{"data":{"name":"gate"},"mark":{"type":"area","color":"#cfcdcd"},"encoding":{"x":{"field":"v","type":"quantitative"},"y":{"field":"i","type":"quantitative"},"y2":{"field":"i2"}}},
{"data":{"values":[{"t":"Au (S)","v":-17.7,"i":0.725},{"t":"Au (D)","v":-3.69,"i":0.725}]},"mark":{"type":"text","font":"Noto Sans","fontWeight":"bold","fontSize":16.4,"color":"white"},"encoding":{"x":{"field":"v","type":"quantitative"},"y":{"field":"i","type":"quantitative"},"text":{"field":"t"}}},
{"data":{"values":[{"t":"SnO (Semiconductor)","v":-10.7,"i":0.474},{"t":"SiO₂ (Dielectric)","v":-10.5,"i":0.314},{"t":"p++ Si (Gate)","v":-10.63,"i":0.215}]},"mark":{"type":"text","font":"Noto Sans","fontWeight":"bold","fontSize":16.4,"color":"black"},"encoding":{"x":{"field":"v","type":"quantitative"},"y":{"field":"i","type":"quantitative"},"text":{"field":"t"}}},
{"data":{"name":"yminor"},"mark":{"type":"rule","strokeWidth":2,"color":"black","clip":false},"encoding":{"x":{"field":"a","type":"quantitative"},"x2":{"field":"b"},"y":{"field":"i","type":"quantitative"}}},
{"data":{"name":"xminor"},"mark":{"type":"rule","strokeWidth":2,"color":"black","clip":false},"encoding":{"x":{"field":"v","type":"quantitative"},"y":{"field":"i","type":"quantitative"},"y2":{"field":"i2"}}},
{"data":{"name":"curves"},"mark":{"type":"line","strokeWidth":1.5},"encoding":{"x":{"field":"v","type":"quantitative"},"y":{"field":"i","type":"quantitative"},"stroke":{"field":"s","type":"nominal","scale":{"domain":["k1","k2","r1","r2","g1","g2","b1","b2","o1","o2"],"range":["#000000","#000000","#ff0000","#ff0000","#008000","#008000","#0000ff","#0000ff","#ff8000","#ff8000"]},"legend":null}}},
{"data":{"name":"curves"},"mark":{"type":"point","shape":"circle","filled":true,"fill":"white","opacity":1,"size":58,"strokeWidth":1},"encoding":{"x":{"field":"v","type":"quantitative"},"y":{"field":"i","type":"quantitative"},"stroke":{"field":"s","type":"nominal","legend":null}}},
{"data":{"name":"legend"},"mark":{"type":"text","align":"left","baseline":"middle","fontSize":22.5,"fontWeight":"bold","font":"Liberation Sans"},"encoding":{"x":{"field":"v","type":"quantitative"},"y":{"field":"i","type":"quantitative"},"text":{"field":"t"},"fill":{"field":"p","type":"nominal","legend":null}}},
{"data":{"values":[{"t":"V","v":-2.9,"i":0.0367},{"t":"(V)","v":0.6,"i":0.0367}]},"mark":{"type":"text","align":"left","baseline":"alphabetic","fontSize":27,"color":"black","clip":false},"encoding":{"x":{"field":"v","type":"quantitative"},"y":{"field":"i","type":"quantitative"},"text":{"field":"t"}}},
{"data":{"values":[{"t":"GS","v":-1.75,"i":0.0335}]},"mark":{"type":"text","align":"left","baseline":"alphabetic","fontSize":19,"color":"black","clip":false},"encoding":{"x":{"field":"v","type":"quantitative"},"y":{"field":"i","type":"quantitative"},"text":{"field":"t"}}},
{"data":{"values":[{"t":"I","v":-27.13,"i":1.58},{"t":"(µA)","v":-27.13,"i":2.59}]},"mark":{"type":"text","angle":270,"align":"left","baseline":"alphabetic","fontSize":27,"color":"black","clip":false},"encoding":{"x":{"field":"v","type":"quantitative"},"y":{"field":"i","type":"quantitative"},"text":{"field":"t"}}},
{"data":{"values":[{"t":"DS","v":-26.65,"i":1.76}]},"mark":{"type":"text","angle":270,"align":"left","baseline":"alphabetic","fontSize":19,"color":"black","clip":false},"encoding":{"x":{"field":"v","type":"quantitative"},"y":{"field":"i","type":"quantitative"},"text":{"field":"t"}}}
]}
